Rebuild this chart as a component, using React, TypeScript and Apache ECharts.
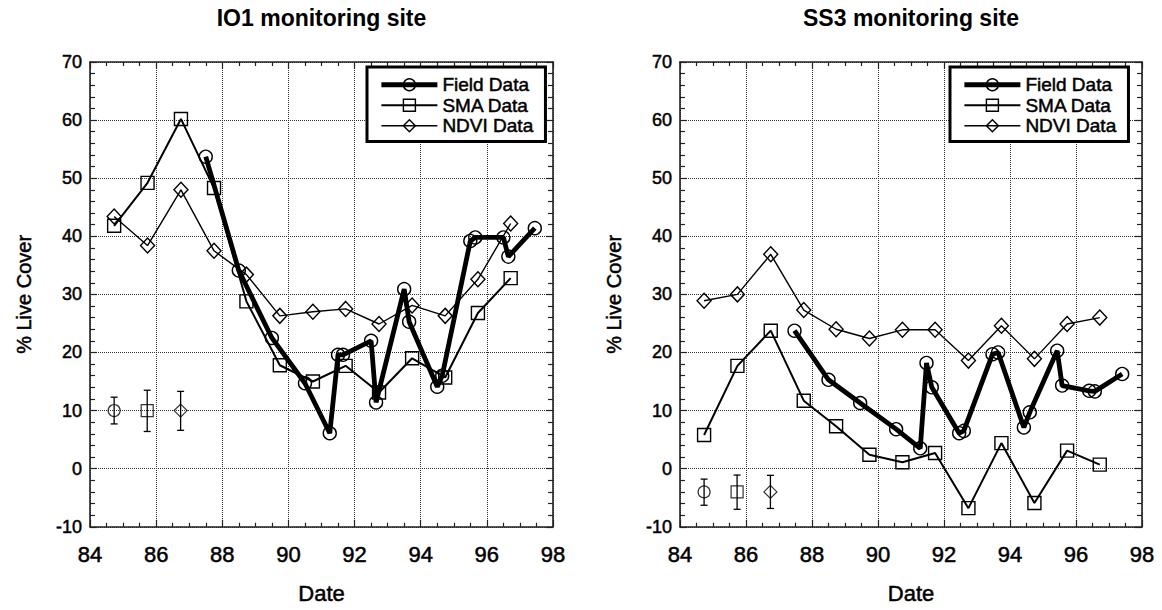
import React, { useEffect, useRef } from "react";
import * as echarts from "echarts";

// ---------- data ----------
const titles = ["IO1 monitoring site", "SS3 monitoring site"];
const seriesNames = ["Field Data", "SMA Data", "NDVI Data"];

// IO1 site
const io1FieldDates = [87.5, 88.5, 89.5, 90.5, 91.25, 91.5, 91.65, 92.5, 92.65, 93.5, 93.65, 94.5, 94.65, 95.5, 95.65, 96.5, 96.65, 97.45];
const io1FieldCover = [53.7, 34.1, 22.5, 14.7, 6.1, 19.6, 19.6, 22.0, 11.4, 30.9, 25.3, 14.1, 16.0, 39.2, 39.8, 39.8, 36.5, 41.4];
const satDates = [84.73, 85.74, 86.75, 87.75, 88.73, 89.74, 90.74, 91.73, 92.74, 93.74, 94.74, 95.73, 96.72];
const io1SmaCover = [41.8, 49.2, 60.2, 48.3, 28.8, 17.8, 15.0, 17.7, 13.1, 19.0, 15.7, 26.8, 32.8];
const io1NdviCover = [43.4, 38.4, 48.0, 37.5, 33.4, 26.3, 27.0, 27.5, 24.9, 28.1, 26.3, 32.6, 42.2];

// SS3 site
const ss3FieldDates = [87.47, 88.5, 89.46, 90.55, 91.28, 91.47, 91.63, 92.46, 92.6, 93.47, 93.64, 94.42, 94.6, 95.43, 95.58, 96.4, 96.57, 97.4];
const ss3FieldCover = [23.75, 15.3, 11.3, 6.8, 3.5, 18.2, 14.0, 6.1, 6.5, 19.7, 20.0, 7.1, 9.7, 20.3, 14.3, 13.4, 13.3, 16.3];
const ss3SmaCover = [5.8, 17.7, 23.75, 11.7, 7.3, 2.4, 1.1, 2.7, -6.8, 4.4, -5.9, 3.1, 0.7];
const ss3NdviCover = [28.9, 30.0, 36.9, 27.3, 24.0, 22.4, 23.9, 23.9, 18.6, 24.6, 18.9, 24.9, 26.0];

// error bar samples
const errDates = [84.73, 85.73, 86.74];
const io1ErrCentre = 10;
const io1ErrLow = [7.7, 6.4, 6.6];
const io1ErrHigh = [12.3, 13.5, 13.3];
const ss3ErrCentre = -4;
const ss3ErrLow = [-6.3, -7.0, -6.85];
const ss3ErrHigh = [-1.8, -1.1, -1.15];

// axes
const xMin = 84, xMax = 98, xStep = 2;
const yMin = -10, yMax = 70, yStep = 10;

const FONT = "Liberation Sans, Arial, Helvetica, sans-serif";
const symbols = ["circle", "rect", "diamond"];
const lineWidths = [4.8, 2, 1.4];
const symbolSizes: any[] = [13, 13, [14, 15]];

function pairs(xs: number[], ys: number[]) {
  return xs.map((x, i) => [x, ys[i]]);
}

export default function App() {
  const ref = useRef<HTMLDivElement>(null);
  useEffect(() => {
    if (!ref.current) return;
    const chart = echarts.init(ref.current, undefined, { renderer: "svg" });

    const grids = [
      { left: 90, top: 62, width: 463, height: 465 },
      { left: 680, top: 62, width: 462, height: 465 },
    ];
    const heavy = { textBorderColor: "#000", textBorderWidth: 0.5 };
    const tickLine = { color: "#222", width: 1.2 };
    const axisLine = { show: true, onZero: false, lineStyle: { color: "#222", width: 1.6 } };

    const xAxes: any[] = [];
    const yAxes: any[] = [];
    grids.forEach((_, g) => {
      xAxes.push({
        type: "value", gridIndex: g, position: "bottom", min: xMin, max: xMax, interval: xStep,
        axisLine, axisTick: { inside: true, length: 7, lineStyle: tickLine },
        minorTick: { show: true, splitNumber: 4, length: 4, lineStyle: tickLine },
        axisLabel: { color: "#000", fontSize: 22, fontFamily: FONT, margin: 17, ...heavy },
        splitLine: { show: true, lineStyle: { type: "dotted", color: "#333", width: 1 } },
        name: "Date", nameLocation: "middle", nameGap: 56,
        nameTextStyle: { color: "#000", fontSize: 22, fontFamily: FONT, ...heavy },
      });
      xAxes.push({
        type: "value", gridIndex: g, position: "top", min: xMin, max: xMax, interval: xStep,
        axisLine, axisTick: { inside: true, length: 7, lineStyle: tickLine },
        minorTick: { show: true, splitNumber: 4, length: 4, lineStyle: tickLine },
        axisLabel: { show: false }, splitLine: { show: false },
      });
      yAxes.push({
        type: "value", gridIndex: g, position: "left", min: yMin, max: yMax, interval: yStep,
        axisLine, axisTick: { inside: true, length: 7, lineStyle: tickLine },
        minorTick: { show: true, splitNumber: 5, length: 5, lineStyle: tickLine },
        axisLabel: { color: "#000", fontSize: 18, fontFamily: FONT, margin: 8, ...heavy },
        splitLine: { show: true, lineStyle: { type: "dotted", color: "#333", width: 1 } },
        name: "% Live Cover", nameLocation: "middle", nameGap: 56, nameRotate: 90,
        nameTextStyle: { color: "#000", fontSize: 20, fontFamily: FONT, ...heavy },
      });
      yAxes.push({
        type: "value", gridIndex: g, position: "right", min: yMin, max: yMax, interval: yStep,
        axisLine, axisTick: { inside: true, length: 7, lineStyle: tickLine },
        minorTick: { show: true, splitNumber: 5, length: 5, lineStyle: tickLine },
        axisLabel: { show: false }, splitLine: { show: false },
      });
    });

    const siteData = [
      {
        field: pairs(io1FieldDates, io1FieldCover),
        sma: pairs(satDates, io1SmaCover),
        ndvi: pairs(satDates, io1NdviCover),
        err: errDates.map((d, i) => [d, io1ErrLow[i], io1ErrHigh[i]]),
        centre: io1ErrCentre,
      },
      {
        field: pairs(ss3FieldDates, ss3FieldCover),
        sma: pairs(satDates, ss3SmaCover),
        ndvi: pairs(satDates, ss3NdviCover),
        err: errDates.map((d, i) => [d, ss3ErrLow[i], ss3ErrHigh[i]]),
        centre: ss3ErrCentre,
      },
    ];

    const series: any[] = [];
    siteData.forEach((s, g) => {
      const xi = g * 2, yi = g * 2;
      const lists = [s.field, s.sma, s.ndvi];
      lists.forEach((data, k) => {
        series.push({
          type: "line", name: seriesNames[k], xAxisIndex: xi, yAxisIndex: yi, data,
          symbol: symbols[k], symbolSize: symbolSizes[k], showAllSymbol: true,
          lineStyle: { color: "#000", width: lineWidths[k] },
          itemStyle: { color: "rgba(255,255,255,0)", borderColor: "#000", borderWidth: 1.4 },
          z: 5 - k,
        });
      });
      series.push({
        type: "custom", name: "err" + g, xAxisIndex: xi, yAxisIndex: yi, data: s.err,
        encode: { x: 0, y: [1, 2] },
        renderItem: (params: any, api: any) => {
          const lo = api.coord([api.value(0), api.value(1)]);
          const hi = api.coord([api.value(0), api.value(2)]);
          const c = 3.5;
          const st = { stroke: "#000", lineWidth: 1.3 };
          return {
            type: "group",
            children: [
              { type: "line", shape: { x1: lo[0], y1: lo[1], x2: hi[0], y2: hi[1] }, style: st },
              { type: "line", shape: { x1: lo[0] - c, y1: lo[1], x2: lo[0] + c, y2: lo[1] }, style: st },
              { type: "line", shape: { x1: hi[0] - c, y1: hi[1], x2: hi[0] + c, y2: hi[1] }, style: st },
            ],
          };
        },
      });
      series.push({
        type: "scatter", name: "errmark" + g, xAxisIndex: xi, yAxisIndex: yi,
        data: errDates.map((d, i) => ({ value: [d, s.centre], symbol: symbols[i], symbolSize: i === 2 ? 13 : 12 })),
        itemStyle: { color: "rgba(255,255,255,0)", borderColor: "#000", borderWidth: 1.2 },
      });
    });

    const legendBase = {
      orient: "vertical",
      data: seriesNames.map((n, k) => ({
        name: n,
        lineStyle: { color: "#000", width: lineWidths[k] },
        itemStyle: { color: "rgba(255,255,255,0)", borderColor: "#000", borderWidth: 1.4 },
      })),
      itemWidth: 56, itemHeight: 15, itemGap: 1,
      padding: [8, 12, 6, 12], borderColor: "#000", borderWidth: 3, backgroundColor: "#fff",
      textStyle: { color: "#000", fontSize: 19, fontFamily: FONT, ...heavy }, selectedMode: false,
    };

    chart.setOption({
      animation: false,
      backgroundColor: "#fff",
      grid: grids,
      xAxis: xAxes,
      yAxis: yAxes,
      legend: [
        { ...legendBase, left: 367, top: 67 },
        { ...legendBase, left: 950, top: 67 },
      ],
      graphic: titles.map((t, g) => ({
        type: "text",
        x: grids[g].left + grids[g].width / 2,
        y: 18,
        style: { text: t, fill: "#000", font: `bold 23px ${FONT}`, textAlign: "center", textVerticalAlign: "middle" },
      })),
      series,
    });
    return () => chart.dispose();
  }, []);
  return <div ref={ref} style={{ width: 1162, height: 610, position: "absolute", left: 0, top: 0 }} />;
}
